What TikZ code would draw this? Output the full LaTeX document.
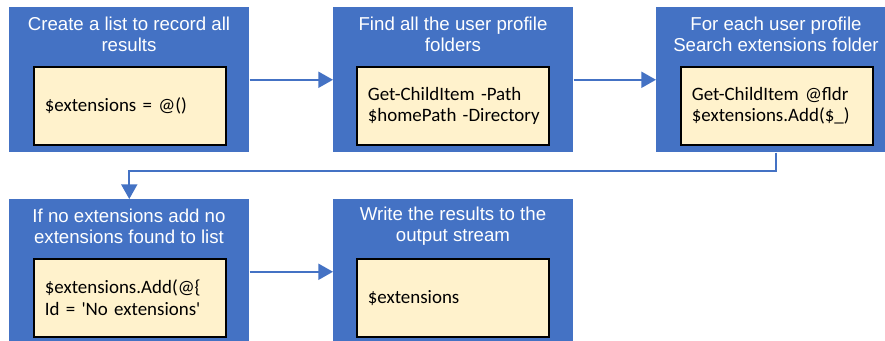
\documentclass[tikz,border=0pt]{standalone}
\usepackage{fontspec}
\setmainfont{Liberation Sans}
\newfontfamily\codefont{Carlito}
\usetikzlibrary{arrows.meta}
\definecolor{boxblue}{HTML}{4472C4}
\definecolor{codebg}{HTML}{FFF2CC}
\begin{document}
\begin{tikzpicture}[x=0.75pt,y=-0.75pt,
  outerbox/.style={fill=boxblue, draw=none, anchor=north west, inner sep=0pt,
    minimum width=180pt, minimum height=108.75pt},
  codebox/.style={fill=codebg, draw=black, line width=1.2pt, anchor=north west,
    inner xsep=8.25pt, inner ysep=0pt, text width=127.5pt, align=left,
    minimum height=58.5pt, font=\codefont\fontsize{14.2}{16}\selectfont},
  titletext/.style={text=white, align=center, inner sep=0pt,
    font=\fontsize{14}{16}\selectfont},
  conn/.style={draw=boxblue, line width=1.5pt,
    -{Triangle[length=11pt,width=12pt]}}
]
\useasboundingbox (0,0) rectangle (885,340);
\clip (0,0) rectangle (885,340);
\fill[white] (0,0) rectangle (885,340);

% outer boxes
\node[outerbox] (b1) at (9,7) {};
\node[outerbox] (b2) at (333,7) {};
\node[outerbox] (b3) at (656,7) {};
\node[outerbox] (b4) at (9,199) {};
\node[outerbox] (b5) at (333,199) {};

% titles
\node[titletext] (t1) at (129,34) {Create a list to record all\\results};
\node[titletext] (t2) at (453,34) {Find all the user profile\\folders};
\node[titletext] (t3) at (776,34) {For each user profile\\Search extensions folder};
\node[titletext] (t4) at (129,226) {If no extensions add no\\extensions found to list};
\node[titletext] (t5) at (453,226) {Write the results to the\\output stream};

% code boxes
\node[codebox] (c1) at (33,66) {\mbox{\$extensions = @()}};
\node[codebox] (c2) at (356,66) {\mbox{Get-ChildItem -Path}\\\mbox{\$homePath -Directory}};
\node[codebox] (c3) at (680,66) {\mbox{Get-ChildItem @fldr}\\\mbox{\$extensions.Add(\$\_)}};
\node[codebox] (c4) at (33,258) {\mbox{\$extensions.Add(@\{}\\\mbox{Id = 'No extensions'}};
\node[codebox] (c5) at (356,258) {\mbox{\$extensions}};

% connectors
\draw[conn] (b1.east) -- (b2.west);
\draw[conn] (b2.east) -- (b3.west);
\draw[conn] (b3.south) -- ++(0,18) -| (b4.north);
\draw[conn] (b4.east) -- (b5.west);
\end{tikzpicture}
\end{document}
